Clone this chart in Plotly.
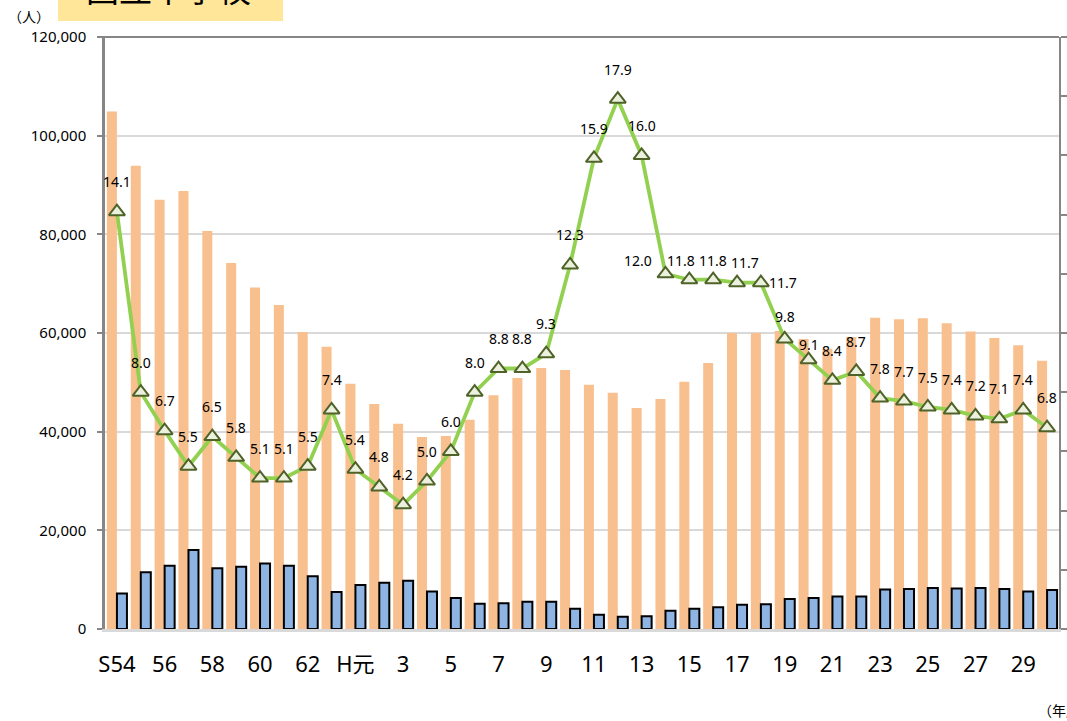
import plotly.graph_objects as go

# ---- data ----
categories = ["S54", "55", "56", "57", "58", "59", "60", "61", "62", "63", "H元"] + [str(i) for i in range(2, 31)]

orange_values = [104900, 93900, 87000, 88800, 80700, 74200, 69200, 65700, 60200, 57200,
                 49700, 45600, 41600, 38900, 39100, 42400, 47400, 50900, 52900, 52500,
                 49500, 47900, 44800, 46600, 50100, 53900, 60000, 60000, 60400, 58800,
                 56800, 59200, 63100, 62800, 63000, 62000, 60300, 59000, 57500, 54400]

blue_values = [7200, 11500, 12800, 16000, 12300, 12600, 13300, 12800, 10700, 7500,
               8900, 9400, 9800, 7600, 6300, 5100, 5200, 5500, 5500, 4100,
               2900, 2500, 2600, 3700, 4100, 4400, 4900, 5000, 6100, 6300,
               6600, 6600, 8000, 8100, 8300, 8200, 8300, 8100, 7600, 7900]

ratio_values = [14.1, 8.0, 6.7, 5.5, 6.5, 5.8, 5.1, 5.1, 5.5, 7.4,
                5.4, 4.8, 4.2, 5.0, 6.0, 8.0, 8.8, 8.8, 9.3, 12.3,
                15.9, 17.9, 16.0, 12.0, 11.8, 11.8, 11.7, 11.7, 9.8, 9.1,
                8.4, 8.7, 7.8, 7.7, 7.5, 7.4, 7.2, 7.1, 7.4, 6.8]

tick_labels = categories[::2]

# ---- styling ----
FONT = "Noto Sans, Noto Sans CJK JP"
CJK = "Noto Sans CJK JP"
label_shift_default = (0, 30)
label_shift_override = {23: (-27, 13), 24: (-8, 19), 25: (0, 19), 26: (8, 20),
                        27: (22, 0), 28: (0, 22), 29: (0, 15)}

idx = list(range(len(categories)))

fig = go.Figure()

fig.add_trace(go.Bar(
    x=idx, y=orange_values, name="orange",
    marker=dict(color="#F9C08F", line=dict(width=0)),
    yaxis="y", offsetgroup="a",
))
fig.add_trace(go.Bar(
    x=idx, y=blue_values, name="blue",
    marker=dict(color="#8EB4E3", line=dict(color="#000000", width=2)),
    yaxis="y", offsetgroup="b",
))
fig.add_trace(go.Scatter(
    x=idx, y=ratio_values, yaxis="y2", mode="lines+markers",
    line=dict(color="#92D050", width=3.8),
    marker=dict(symbol="triangle-up", size=14, color="#EBF1DE",
                line=dict(color="#4F6228", width=2)),
))

annotations = []
for i, v in zip(idx, ratio_values):
    xs, ys = label_shift_override.get(i, label_shift_default)
    annotations.append(dict(
        x=i, y=v, xref="x", yref="y2", text=f"{v:.1f}", showarrow=False,
        xshift=xs, yshift=ys, font=dict(family=FONT, size=14, color="#000000"),
    ))

PW, PH = 954, 592  # plot area size in px
annotations.append(dict(
    x=(168 - 105) / PW, y=1 + (37 - 14) / PH, xref="paper", yref="paper",
    text="国立中学校", showarrow=False, yanchor="bottom", xanchor="center",
    font=dict(family=CJK, size=33, color="#000000"),
))
annotations.append(dict(
    x=(6 - 105) / PW, y=1 + 21 / PH, xref="paper", yref="paper", text="（人）",
    showarrow=False, xanchor="left", yanchor="middle",
    font=dict(family=CJK, size=14, color="#000000"),
))
annotations.append(dict(
    x=(1036 - 105) / PW, y=-81 / PH, xref="paper", yref="paper", text="（年度）",
    showarrow=False, xanchor="left", yanchor="middle",
    font=dict(family=CJK, size=14, color="#000000"),
))

fig.update_layout(
    width=1067, height=721,
    margin=dict(l=105, r=8, t=37, b=92, autoexpand=False),
    paper_bgcolor="white", plot_bgcolor="white",
    showlegend=False,
    barmode="group", bargap=0.16, bargroupgap=0,
    font=dict(family=FONT, color="#000000"),
    xaxis=dict(
        range=[-0.5, len(categories) - 0.5], tickmode="array",
        tickvals=idx[::2], ticktext=tick_labels, tickangle=0,
        showline=True, linecolor="#D9D9D9", linewidth=3, ticks="",
        tickfont=dict(family=FONT, size=22, color="#000000"),
        ticklabelstandoff=14, showgrid=False, zeroline=False, automargin=False,
    ),
    yaxis=dict(
        range=[0, 120000], dtick=20000, tickformat=",d",
        showline=True, linecolor="#868686", linewidth=2.5,
        ticks="outside", ticklen=5, tickcolor="#868686", tickwidth=2,
        showgrid=True, gridcolor="#D9D9D9", gridwidth=1.8, zeroline=False,
        tickfont=dict(family=FONT, size=15, color="#000000"),
        ticklabelstandoff=8, automargin=False,
    ),
    yaxis2=dict(
        range=[0, 20], dtick=2, overlaying="y", side="right",
        showline=True, linecolor="#868686", linewidth=2,
        ticks="outside", ticklen=6, tickcolor="#868686", tickwidth=2,
        showticklabels=False, showgrid=False, zeroline=False, automargin=False,
    ),
    annotations=annotations,
    shapes=[
        dict(type="rect", xref="paper", yref="paper",
             x0=(58 - 105) / PW, x1=(283 - 105) / PW,
             y0=1 + 16 / PH, y1=1 + 40 / PH,
             fillcolor="#FFE699", line=dict(width=0), layer="below"),
        dict(type="line", xref="paper", yref="paper", x0=-0.004, x1=1, y0=1, y1=1,
             line=dict(color="#868686", width=2)),
    ],
)

fig.write_html("out.html", config={"displayModeBar": False},
               post_script="document.body.style.margin='0';document.body.style.padding='0';")
